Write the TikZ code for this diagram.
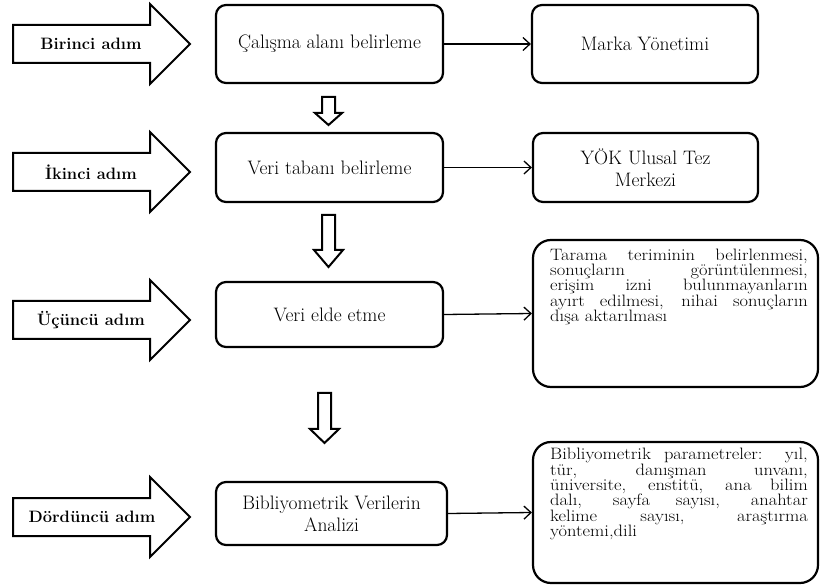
\documentclass[tikz,border=0pt]{standalone}
\usepackage{fontspec}
\usepackage{graphicx}
\usetikzlibrary{arrows.meta}
\newcommand\pfont{\fontsize{16.5}{15.4}\selectfont}
\newcommand\jline[1]{\scalebox{1.12}[1]{\makebox[230pt][s]{#1}}}
\newcommand\lline[1]{\scalebox{1.12}[1]{#1}}
\begin{document}
\begin{tikzpicture}[x=1pt,y=-1pt,
  blockline/.style={draw=black,line width=2pt,fill=white,line join=miter},
  midbox/.style={draw=black,line width=2.2pt,rounded corners=10pt,minimum width=227pt,inner sep=0pt,align=center,
     font={\fontsize{19.5}{22}\selectfont}},
  bigbox/.style={draw=black,line width=2.2pt,rounded corners=18pt,minimum width=285pt,inner sep=0pt},
  bodytext/.style={inner sep=0pt,anchor=north west,align=left,font=\pfont},
  steplabel/.style={font={\fontsize{16.5}{20}\selectfont\bfseries}},
  conn/.style={line width=1.3pt,-{Straight Barb[length=7pt,width=13pt,line width=1.3pt]}}
]
\useasboundingbox (0,0) rectangle (820,585);

% left step arrows
\foreach \c in {44,172,320,517}{
  \draw[blockline] (13,\c-19) -- (150,\c-19) -- (150,\c-40) -- (190,\c) -- (150,\c+40) -- (150,\c+19) -- (13,\c+19) -- cycle;
}
\node[steplabel] (s1) at (91,44) {Birinci adım};
\node[steplabel] (s2) at (91,172) {İkinci adım};
\node[steplabel] (s3) at (91,320) {Üçüncü adım};
\node[steplabel] (s4) at (92,517) {Dördüncü adım};

% middle boxes
\node[midbox,minimum height=78pt] (m1) at (329.5,44) {Çalışma alanı belirleme};
\node[midbox,minimum height=69pt] (m2) at (329.5,167.5) {Veri tabanı belirleme};
\node[midbox,minimum height=65pt] (m3) at (329.5,314.5) {Veri elde etme};
\node[midbox,minimum height=63pt,minimum width=231pt] (m4) at (331.5,513.5) {Bibliyometrik Verilerin\\Analizi};

% right boxes
\node[midbox,minimum height=78pt,minimum width=226pt] (r1) at (645,44) {Marka Yönetimi};
\node[midbox,minimum height=69pt,minimum width=225pt] (r2) at (645.5,167.5) {YÖK Ulusal Tez\\Merkezi};
\node[bigbox,minimum height=147pt] (r3) at (675.5,313.5) {};
\node[bigbox,minimum height=141pt] (r4) at (675.5,512.5) {};
\node[bodytext] (t3) at (550,248.5) {%
\jline{Tarama teriminin belirlenmesi,}\\
\jline{sonuçların görüntülenmesi,}\\
\jline{erişim izni bulunmayanların}\\
\jline{ayırt edilmesi, nihai sonuçların}\\
\lline{dışa aktarılması}};
\node[bodytext] (t4) at (550,448) {%
\jline{Bibliyometrik parametreler: yıl,}\\
\jline{tür, danışman unvanı,}\\
\jline{üniversite, enstitü, ana bilim}\\
\jline{dalı, sayfa sayısı, anahtar}\\
\jline{kelime sayısı, araştırma}\\
\lline{yöntemi,dili}};

% connectors
\draw[conn] (m1.east) -- (r1.west);
\draw[conn] (m2.east) -- (r2.west);
\draw[conn] (m3.east) -- (r3.west);
\draw[conn] (m4.east) -- (r4.west);

% down block arrows
\draw[blockline] (322,97) -- (335,97) -- (335,113) -- (342,113) -- (328.5,125) -- (315,113) -- (322,113) -- cycle;
\draw[blockline] (322,215) -- (335,215) -- (335,250) -- (343,250) -- (328.5,267) -- (314,250) -- (322,250) -- cycle;
\draw[blockline] (318,393) -- (331,393) -- (331,429) -- (339,429) -- (324.5,443) -- (310,429) -- (318,429) -- cycle;
\end{tikzpicture}
\end{document}
